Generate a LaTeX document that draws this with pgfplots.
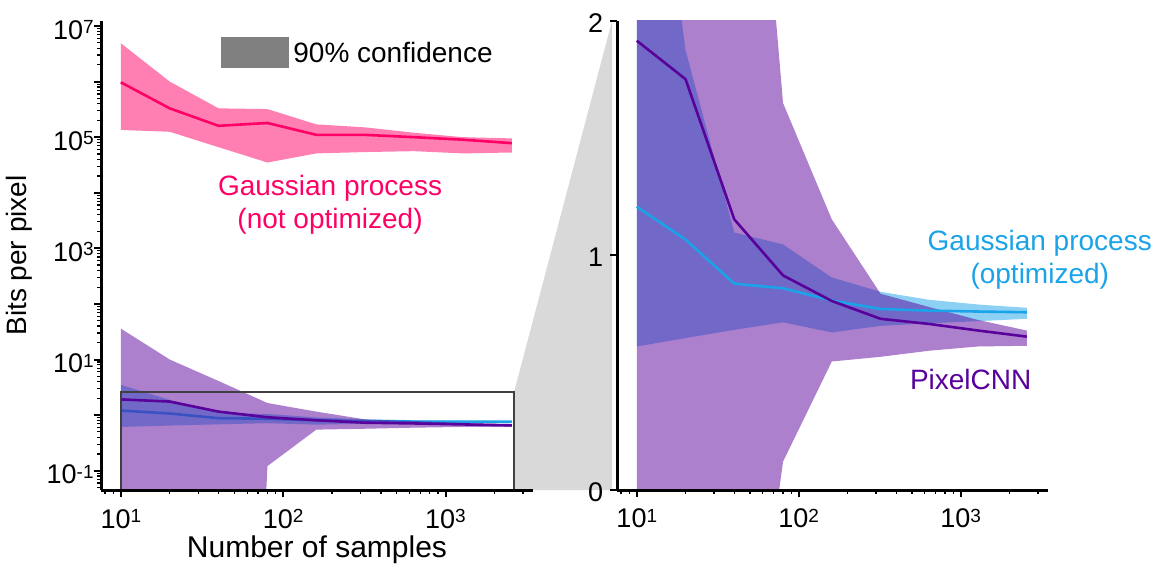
\documentclass[border=0pt]{standalone}
\usepackage{fontspec}
\setmainfont{Liberation Sans}
\usepackage{pgfplots}
\pgfplotsset{compat=1.18}
\usepackage{pgfplotstable}
\usetikzlibrary{backgrounds}

\definecolor{gpraw}{RGB}{255,0,102}
\definecolor{gpopt}{RGB}{26,163,232}
\definecolor{pcnn}{RGB}{89,1,155}
\definecolor{zoomgray}{RGB}{217,217,217}
\definecolor{boxgray}{RGB}{64,64,64}
\definecolor{keygray}{RGB}{128,128,128}

\newcommand\tickfont{\fontsize{13.5}{15}\selectfont}
\newcommand\labelfont{\fontsize{14}{16.5}\selectfont}
\newcommand\xlabelfont{\fontsize{15}{17}\selectfont}
\newcommand\sups[1]{\raisebox{2.9pt}{\fontsize{9.5}{9.5}\selectfont #1}}

% Bits per pixel against number of samples: mean and 90% band
\pgfplotstableread{
n     mean    lo      hi
10    9.7e5   1.35e5  4.9e6
20    3.3e5   1.25e5  1.0e6
40    1.6e5   6.6e4   3.3e5
80    1.8e5   3.5e4   3.2e5
160   1.1e5   5.1e4   1.7e5
320   1.1e5   5.4e4   1.5e5
640   1.0e5   5.6e4   1.2e5
1280  9.0e4   5.1e4   1.0e5
2560  7.8e4   5.3e4   9.5e4
}\gpraw

\pgfplotstableread{
n     mean    lo      hi
10    1.208   0.612   3.5
20    1.068   0.648   1.875
40    0.880   0.683   1.098
80    0.860   0.715   1.047
160   0.808   0.672   0.906
320   0.772   0.700   0.845
640   0.765   0.711   0.811
1280  0.761   0.720   0.791
2560  0.758   0.730   0.777
}\gpopt

\pgfplotstableread{
n     mean    lo      hi
10    1.916   -3.0    36
20    1.752   -2.2    10
40    1.154   -1.4    4.1
80    0.915   0.121   1.65
160   0.806   0.548   1.154
320   0.730   0.568   0.837
640   0.708   0.594   0.780
1280  0.680   0.612   0.725
2560  0.654   0.615   0.680
}\pcnn

% outline of a band: upper bound left to right, then lower bound back
\newcommand\makeband[2]{%
  \pgfplotstablesort[sort key=n, sort cmp=float <]{#2}{#1}%
  \pgfplotstablecreatecol[create col/copy=hi]{edge}{#2}%
  \pgfplotstablesort[sort key=n, sort cmp=float >]{\bandback}{#1}%
  \pgfplotstablecreatecol[create col/copy=lo]{edge}{\bandback}%
  \pgfplotstablevertcat{#2}{\bandback}%
}
\makeband{\gpraw}{\gprawband}
\makeband{\gpopt}{\gpoptband}
\makeband{\pcnn}{\pcnnband}

\tikzset{
  ciband/.style={draw=none, fill=#1, fill opacity=0.5},
  meanline/.style={draw=#1, line width=1.3pt},
}

\begin{document}
\begin{tikzpicture}
\path[use as bounding box] (-50.5pt,-39.5pt) rectangle (529.5pt,245pt);

% full range, log scale
\begin{axis}[xmode=log, ymode=log,
  at={(0pt,0pt)}, anchor=south west,
  scale only axis, width=216pt, height=234.5pt,
  xmin=7.55, xmax=3460, ymin=0.0449, ymax=1.23e7,
  axis x line*=bottom, axis y line*=left,
  axis line style={line width=1.5pt, -},
  axis on top,
  major tick style={black, line width=1pt},
  minor tick style={black, line width=0.6pt},
  tick align=outside,
  major tick length=3.5pt, minor tick length=2pt,
  tick label style={font=\tickfont},
  xtick={10,100,1000},
  xticklabels={10\sups{1},10\sups{2},10\sups{3}},
  minor xtick={8,9,20,30,40,50,60,70,80,90,200,300,400,500,600,700,800,900,2000,3000},
  xticklabel style={anchor=base, inner sep=0pt, yshift=-15.5pt},
  ytick={0.1,1,10,100,1000,1e4,1e5,1e6,1e7},
  yticklabels={10\sups{-1},,10\sups{1},,10\sups{3},,10\sups{5},,10\sups{7}},
  minor ytick={0.05,0.06,0.07,0.08,0.09,
    0.2,0.3,0.4,0.5,0.6,0.7,0.8,0.9,
    2,3,4,5,6,7,8,9,
    20,30,40,50,60,70,80,90,
    200,300,400,500,600,700,800,900,
    2000,3000,4000,5000,6000,7000,8000,9000,
    2e4,3e4,4e4,5e4,6e4,7e4,8e4,9e4,
    2e5,3e5,4e5,5e5,6e5,7e5,8e5,9e5,
    2e6,3e6,4e6,5e6,6e6,7e6,8e6,9e6},
  yticklabel style={anchor=east, inner sep=0pt, xshift=0pt, yshift=-2pt},
  xlabel={Number of samples}, ylabel={Bits per pixel},
  xlabel style={at={(axis description cs:0.5,-0.1430)}, anchor=base, inner sep=0pt, font=\xlabelfont},
  ylabel style={at={(axis description cs:-0.172,0.5)}, anchor=base, inner sep=0pt, font=\labelfont},
]
\addplot[ciband=gpraw] table[x=n,y=edge]{\gprawband};
\addplot[meanline=gpraw, mark=none] table[x=n,y=mean]{\gpraw};

\addplot[ciband=gpopt] table[x=n,y=edge]{\gpoptband};
\addplot[meanline=gpopt, mark=none] table[x=n,y=mean]{\gpopt};

% a lower bound at or below zero drops off the bottom of the log axis
\addplot[ciband=pcnn] table[x=n,y expr={max(\thisrow{edge},1e-20)}]{\pcnnband};
\addplot[meanline=pcnn, mark=none] table[x=n,y=mean]{\pcnn};

% key for the shaded bands
\fill[keygray] (rel axis cs:0.2778,0.8998) rectangle (rel axis cs:0.4352,0.9659);
\coordinate (keytext) at (rel axis cs:0.4444,0.9328);
\coordinate (rawlabel) at (axis cs:194.5,6000);

% region shown enlarged on the right
\draw[boxgray, line width=1pt] (axis cs:10,0.0449) rectangle (axis cs:2650,2.65);
\coordinate (bt) at (axis cs:2650,2.65);
\coordinate (bb) at (axis cs:2650,0.0449);
\end{axis}

\node[font=\labelfont, anchor=west, inner sep=0pt] at (keytext) {90\% confidence};
\node[gpraw, font=\labelfont, align=center] at (rawlabel) {Gaussian process\\(not optimized)};

% enlarged low range, linear scale
\begin{axis}[xmode=log,
  at={(258pt,0pt)}, anchor=south west,
  scale only axis, width=215.5pt, height=234.5pt,
  xmin=7.55, xmax=3460, ymin=0, ymax=2,
  axis x line*=bottom, axis y line*=left,
  axis line style={line width=1.5pt, -},
  axis on top,
  major tick style={black, line width=1pt},
  minor tick style={black, line width=0.6pt},
  tick align=outside,
  major tick length=3.5pt, minor tick length=2pt,
  tick label style={font=\tickfont},
  xtick={10,100,1000},
  xticklabels={10\sups{1},10\sups{2},10\sups{3}},
  minor xtick={8,9,20,30,40,50,60,70,80,90,200,300,400,500,600,700,800,900,2000,3000},
  xticklabel style={anchor=base, inner sep=0pt, yshift=-15.5pt},
  ytick={0,1,2}, yticklabels={0,1,2},
  yticklabel style={anchor=east, inner sep=0pt, xshift=-3.25pt, yshift=-1pt},
]
\addplot[ciband=gpopt] table[x=n,y=edge]{\gpoptband};
\addplot[ciband=pcnn] table[x=n,y=edge]{\pcnnband};

\addplot[meanline=gpopt, mark=none] table[x=n,y=mean]{\gpopt};
\addplot[meanline=pcnn, mark=none] table[x=n,y=mean]{\pcnn};

\coordinate (optlabel) at (axis cs:3077,0.983);
\coordinate (cnnlabel) at (axis cs:1153,0.472);
\coordinate (zt) at (rel axis cs:0,1);
\coordinate (zb) at (rel axis cs:0,0);
\end{axis}

\node[gpopt, font=\labelfont, align=center] at (optlabel) {Gaussian process\\(optimized)};
\node[pcnn, font=\labelfont] at (cnnlabel) {PixelCNN};

\begin{scope}[on background layer]
\fill[zoomgray] (bt) -- ([xshift=-2.5pt]zt) -- ([xshift=-2.5pt]zb) -- (bb) -- cycle;
\end{scope}
\end{tikzpicture}
\end{document}
